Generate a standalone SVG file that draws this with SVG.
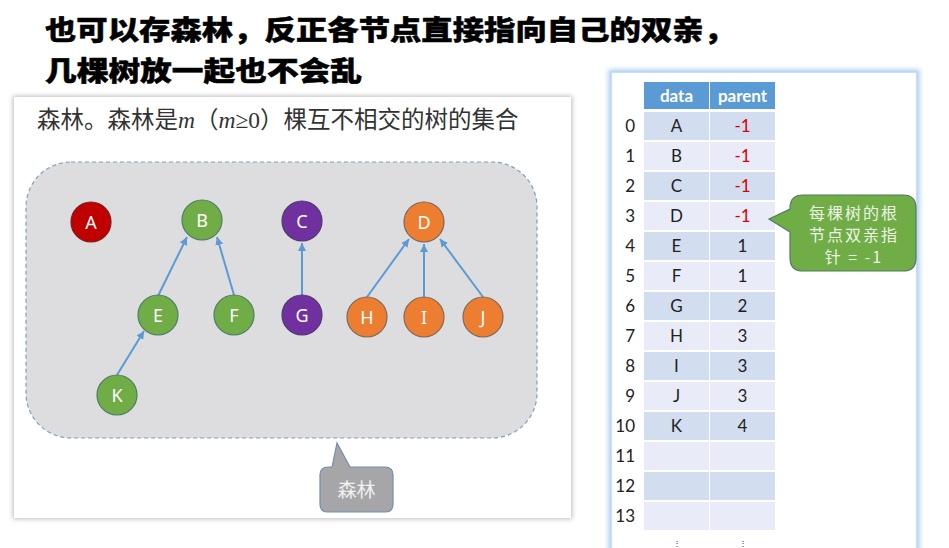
<svg xmlns="http://www.w3.org/2000/svg" width="949" height="548" viewBox="0 0 949 548">
<style>
.title{font-family:"Noto Sans CJK SC","Noto Sans",sans-serif;font-weight:900;font-size:27px;fill:#000;stroke:#000;stroke-width:0.5}
.sub{font-family:"Liberation Serif","Noto Sans CJK SC",serif;font-size:23.5px;fill:#333}
.nl{font-family:"Noto Sans","Open Sans",sans-serif;font-size:18px;fill:#fff;text-anchor:middle}
.edge{stroke:#5b9bd5;stroke-width:2;fill:none;marker-end:url(#ah)}
.tc{font-family:Lato,"Noto Sans",sans-serif;font-size:17px;fill:#222;text-anchor:middle}
.idx{font-family:Lato,"Noto Sans",sans-serif;font-size:17px;fill:#222;text-anchor:end}
.hd{font-family:Lato,"Noto Sans",sans-serif;font-size:17px;font-weight:bold;fill:#fff;text-anchor:middle}
.red{fill:#e00000}
.dk{fill:#d2ddef}
.lt{fill:#e9ecf8}
.cn{font-family:"Noto Sans CJK SC",sans-serif;text-anchor:middle}
.co{font-size:16px;letter-spacing:2px;fill:#eef5e8}
</style>
<defs>
<marker id="ah" markerUnits="userSpaceOnUse" markerWidth="9" markerHeight="9" refX="8" refY="4" orient="auto">
<path d="M0,0 L8,4 L0,8 z" fill="#5b9bd5"/>
</marker>
<filter id="sh" x="-5%" y="-5%" width="110%" height="110%">
<feGaussianBlur stdDeviation="2.5"/>
</filter>
</defs>
<rect width="949" height="548" fill="#fff"/>
<g id="title">
<text class="title" x="45" y="40" textLength="690" lengthAdjust="spacingAndGlyphs">也可以存森林，反正各节点直接指向自己的双亲，</text>
<text class="title" x="45" y="81" textLength="317" lengthAdjust="spacingAndGlyphs">几棵树放一起也不会乱</text>
</g>
<g id="left-panel">
<rect x="13" y="96" width="559" height="423" fill="#bbb" filter="url(#sh)"/>
<rect x="14" y="97" width="557" height="421" fill="#fff"/>
<text class="sub" x="37" y="128">森林。森林是<tspan font-style="italic">m</tspan>（<tspan font-style="italic">m</tspan>≥0）棵互不相交的树的集合</text>
<rect id="forest" x="26" y="162" width="511" height="276" rx="45" fill="#dddcdf" stroke="#7f9fc0" stroke-width="1.2" stroke-dasharray="4,3"/>
</g>
<g id="connectors">
<line class="edge" x1="117" y1="375" x2="144" y2="331"/>
<line class="edge" x1="158" y1="296" x2="187" y2="237"/>
<line class="edge" x1="234" y1="295" x2="217" y2="237"/>
<line class="edge" x1="302" y1="295" x2="302" y2="243"/>
<line class="edge" x1="367" y1="297" x2="409" y2="239"/>
<line class="edge" x1="424" y1="297" x2="424" y2="244"/>
<line class="edge" x1="483" y1="297" x2="440" y2="239"/>
</g>
<g id="node-A"><circle cx="91" cy="222" r="20" fill="#c00000" stroke="#7a1f1f" stroke-width="1.2"/><text class="nl" x="91" y="228.5">A</text></g>
<g id="node-B"><circle cx="202" cy="220" r="20" fill="#70ad47" stroke="#4f7b6a" stroke-width="1.2"/><text class="nl" x="202" y="226.5">B</text></g>
<g id="node-C"><circle cx="302" cy="221" r="20" fill="#7030a0" stroke="#4e3b6e" stroke-width="1.2"/><text class="nl" x="302" y="227.5">C</text></g>
<g id="node-D"><circle cx="424" cy="222" r="20" fill="#ed7d31" stroke="#7a6a60" stroke-width="1.2"/><text class="nl" x="424" y="228.5">D</text></g>
<g id="node-E"><circle cx="158" cy="315" r="20" fill="#70ad47" stroke="#4f7b6a" stroke-width="1.2"/><text class="nl" x="158" y="321.5">E</text></g>
<g id="node-F"><circle cx="234" cy="315" r="20" fill="#70ad47" stroke="#4f7b6a" stroke-width="1.2"/><text class="nl" x="234" y="321.5">F</text></g>
<g id="node-G"><circle cx="302" cy="315" r="20" fill="#7030a0" stroke="#4e3b6e" stroke-width="1.2"/><text class="nl" x="302" y="321.5">G</text></g>
<g id="node-H"><circle cx="367" cy="317" r="20" fill="#ed7d31" stroke="#7a6a60" stroke-width="1.2"/><text class="nl" x="367" y="323.5">H</text></g>
<g id="node-I"><circle cx="424" cy="317" r="20" fill="#ed7d31" stroke="#7a6a60" stroke-width="1.2"/><text class="nl" x="424" y="323.5">I</text></g>
<g id="node-J"><circle cx="483" cy="317" r="20" fill="#ed7d31" stroke="#7a6a60" stroke-width="1.2"/><text class="nl" x="483" y="323.5">J</text></g>
<g id="node-K"><circle cx="117" cy="395" r="20" fill="#70ad47" stroke="#4f7b6a" stroke-width="1.2"/><text class="nl" x="117" y="401.5">K</text></g>
<g id="callout-forest">
<path d="M328,467 H332 L337,443 L350,467 H385 Q393,467 393,475 V504 Q393,512 385,512 H328 Q320,512 320,504 V475 Q320,467 328,467 Z" fill="#a6a6a9" stroke="#6f8fae" stroke-width="1.2"/>
<text class="cn" x="356.5" y="497" font-size="19" fill="#f2f2f2">森林</text>
</g>
<g id="right-panel">
<rect x="611" y="72" width="306" height="490" fill="none" stroke="#a8cbf2" stroke-width="5" filter="url(#sh)"/>
<rect x="611" y="72" width="306" height="490" fill="#fff" stroke="#b7d5f7" stroke-width="1.5"/>
</g>
<g id="table">
<rect x="644" y="82" width="65" height="27" fill="#5b9bd5"/>
<rect x="710" y="82" width="65" height="27" fill="#5b9bd5"/>
<text class="hd" x="676.5" y="101.5">data</text>
<text class="hd" x="742.5" y="101.5">parent</text>
<g>
<rect class="dk" x="644" y="112" width="65" height="28"/><rect class="dk" x="710" y="112" width="65" height="28"/>
<rect class="lt" x="644" y="142" width="65" height="28"/><rect class="lt" x="710" y="142" width="65" height="28"/>
<rect class="dk" x="644" y="172" width="65" height="28"/><rect class="dk" x="710" y="172" width="65" height="28"/>
<rect class="lt" x="644" y="202" width="65" height="28"/><rect class="lt" x="710" y="202" width="65" height="28"/>
<rect class="dk" x="644" y="232" width="65" height="28"/><rect class="dk" x="710" y="232" width="65" height="28"/>
<rect class="lt" x="644" y="262" width="65" height="28"/><rect class="lt" x="710" y="262" width="65" height="28"/>
<rect class="dk" x="644" y="292" width="65" height="28"/><rect class="dk" x="710" y="292" width="65" height="28"/>
<rect class="lt" x="644" y="322" width="65" height="28"/><rect class="lt" x="710" y="322" width="65" height="28"/>
<rect class="dk" x="644" y="352" width="65" height="28"/><rect class="dk" x="710" y="352" width="65" height="28"/>
<rect class="lt" x="644" y="382" width="65" height="28"/><rect class="lt" x="710" y="382" width="65" height="28"/>
<rect class="dk" x="644" y="412" width="65" height="28"/><rect class="dk" x="710" y="412" width="65" height="28"/>
<rect class="lt" x="644" y="442" width="65" height="28"/><rect class="lt" x="710" y="442" width="65" height="28"/>
<rect class="dk" x="644" y="472" width="65" height="28"/><rect class="dk" x="710" y="472" width="65" height="28"/>
<rect class="lt" x="644" y="502" width="65" height="28"/><rect class="lt" x="710" y="502" width="65" height="28"/>
</g>
<g>
<text class="idx" x="635" y="132">0</text>
<text class="idx" x="635" y="162">1</text>
<text class="idx" x="635" y="192">2</text>
<text class="idx" x="635" y="222">3</text>
<text class="idx" x="635" y="252">4</text>
<text class="idx" x="635" y="282">5</text>
<text class="idx" x="635" y="312">6</text>
<text class="idx" x="635" y="342">7</text>
<text class="idx" x="635" y="372">8</text>
<text class="idx" x="635" y="402">9</text>
<text class="idx" x="635" y="432">10</text>
<text class="idx" x="635" y="462">11</text>
<text class="idx" x="635" y="492">12</text>
<text class="idx" x="635" y="522">13</text>
</g>
<g>
<text class="tc" x="676.5" y="132">A</text><text class="tc red" x="742.5" y="132">-1</text>
<text class="tc" x="676.5" y="162">B</text><text class="tc red" x="742.5" y="162">-1</text>
<text class="tc" x="676.5" y="192">C</text><text class="tc red" x="742.5" y="192">-1</text>
<text class="tc" x="676.5" y="222">D</text><text class="tc red" x="742.5" y="222">-1</text>
<text class="tc" x="676.5" y="252">E</text><text class="tc" x="742.5" y="252">1</text>
<text class="tc" x="676.5" y="282">F</text><text class="tc" x="742.5" y="282">1</text>
<text class="tc" x="676.5" y="312">G</text><text class="tc" x="742.5" y="312">2</text>
<text class="tc" x="676.5" y="342">H</text><text class="tc" x="742.5" y="342">3</text>
<text class="tc" x="676.5" y="372">I</text><text class="tc" x="742.5" y="372">3</text>
<text class="tc" x="676.5" y="402">J</text><text class="tc" x="742.5" y="402">3</text>
<text class="tc" x="676.5" y="432">K</text><text class="tc" x="742.5" y="432">4</text>
<text class="tc" x="676.5" y="546" style="font-size:8px">⋮</text><text class="tc" x="742.5" y="546" style="font-size:8px">⋮</text>
</g>
</g>
<g id="callout-root">
<path d="M803,195 H903 Q916,195 916,208 V258 Q916,271 903,271 H803 Q790,271 790,258 V232 L769,219 L790,209 V208 Q790,195 803,195 Z" fill="#70ad47" stroke="#4e7d5f" stroke-width="1.2"/>
<text class="cn co" x="854" y="219">每棵树的根</text>
<text class="cn co" x="854" y="241">节点双亲指</text>
<text class="cn co" x="854" y="263">针 = -1</text>
</g>
</svg>
